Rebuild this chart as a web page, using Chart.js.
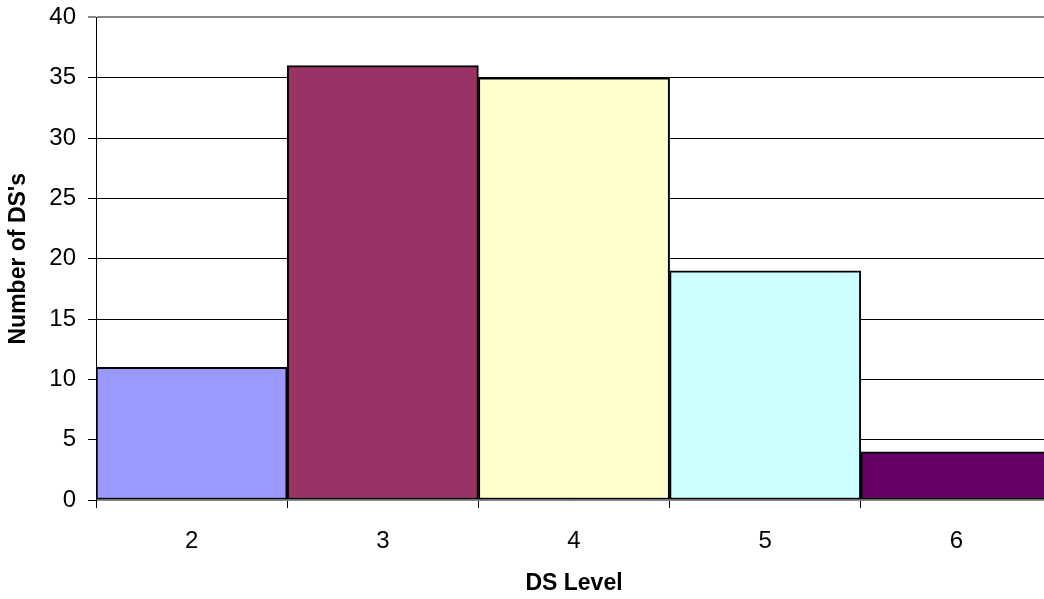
<!DOCTYPE html>
<html>
    <head>
        <title>DS Level</title>
        <script src="https://cdn.jsdelivr.net/npm/chart.js"></script>
        <style>
            html, body { margin: 0; padding: 0; background: #fff; }
            #clip { width: 1044px; height: 599px; overflow: hidden; }
            #wrap { width: 1052px; height: 608px; margin-top: -9px; }
        </style>
    </head>
    <body>
        <div id="clip">
            <div id="wrap">
                <canvas id="levelChart"></canvas>
            </div>
        </div>
    </body>

    <script>
        var levels = ['2', '3', '4', '5', '6'];
        var counts = [11, 36, 35, 19, 4];
        var barColors = ['#9999FF', '#993366', '#FFFFCC', '#CCFFFF', '#660066'];
        var yTicks = [0, 5, 10, 15, 20, 25, 30, 35, 40];

        var tickFont = { family: 'Arial, "Liberation Sans", sans-serif', size: 24 };
        var titleFont = { family: 'Arial, "Liberation Sans", sans-serif', size: 23, weight: 'bold' };

        var ctx = document.getElementById('levelChart').getContext('2d');
        var levelChart = new Chart(ctx, {
            type: 'bar',
            data: {
                labels: levels,
                datasets: [{
                    data: counts,
                    backgroundColor: barColors,
                    borderColor: '#000',
                    borderWidth: 2,
                    borderSkipped: false,
                    barPercentage: 1,
                    categoryPercentage: 1,
                }]
            },
            options: {
                responsive: true,
                maintainAspectRatio: false,
                animation: false,
                layout: { padding: { top: 0, right: 0, left: 0, bottom: 0 } },
                plugins: {
                    legend: { display: false },
                    tooltip: { enabled: false },
                },
                scales: {
                    x: {
                        offset: true,
                        afterFit: function (scale) { scale.height = 99; },
                        grid: {
                            offset: true,
                            drawOnChartArea: false,
                            tickLength: 8,
                            color: '#000',
                        },
                        border: { color: '#888', width: 1 },
                        ticks: { color: '#000', font: tickFont, padding: 19 },
                        title: {
                            display: true,
                            text: 'DS Level',
                            color: '#000',
                            font: titleFont,
                            padding: { top: 0, bottom: 2 },
                        }
                    },
                    y: {
                        min: 0,
                        max: 40,
                        afterFit: function (scale) { scale.width = 96; },
                        afterBuildTicks: function (scale) {
                            scale.ticks = yTicks.map(function (v) { return { value: v }; });
                        },
                        grid: {
                            tickLength: 8,
                            color: function (c) { return c.tick && c.tick.value === 40 ? '#888' : '#000'; },
                            lineWidth: function (c) { return c.tick && c.tick.value === 40 ? 2 : 1; },
                        },
                        border: { color: '#000', width: 1 },
                        ticks: { color: '#000', font: tickFont, padding: 12 },
                        title: {
                            display: true,
                            text: "Number of DS's",
                            color: '#000',
                            font: titleFont,
                            padding: { top: 5, bottom: 0 },
                        }
                    }
                }
            }
        });
    </script>
</html>
